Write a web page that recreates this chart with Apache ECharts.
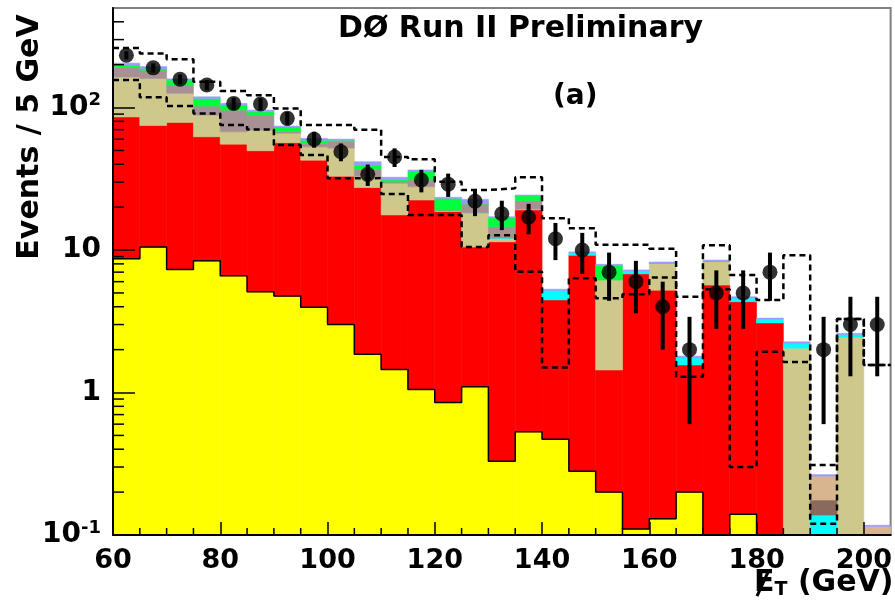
<!DOCTYPE html>
<html>
<head>
<meta charset="utf-8">
<title>DØ Run II Preliminary</title>
<script src="https://cdn.jsdelivr.net/npm/echarts@6.0.0/dist/echarts.min.js"></script>
<style>
html,body{margin:0;padding:0;background:#ffffff;}
#chart{width:895px;height:605px;}
</style>
</head>
<body>
<div id="chart"></div>
<script>
// ---------------- data ----------------
const binStart = [60,65,70,75,80,85,90,95,100,105,110,115,120,125,130,135,140,145,150,155,160,165,170,175,180,185,190,195,200];
const binWidth = 5;

// stacked backgrounds, bottom to top (per-bin contributions)
const yellowVals = [8.7,10.5,7.3,8.4,6.6,5.1,4.75,3.96,3.0,1.86,1.45,1.05,0.85,1.1,0.33,0.53,0.47,0.28,0.2,0.11,0.13,0.2,0,0.14,0,0,0,0,0];
const redVals    = [77.3,64.5,71.4,54,48.8,44.7,51.9,38.8,30,25.6,16.2,21.4,17.8,9.4,11.1,18.6,4.0,8.9,1.24,6.7,5.1,1.36,5.68,4.2,3.08,0.05,0.01,0.01,0.005];
const khakiVals  = [78,85,47.3,26.1,12.2,19.7,9.4,10.2,19,5.5,11.8,5.4,0.2,7.6,0.6,0.2,0,0,4.72,0,2.83,0,2.62,0,0,2.0,0.01,2.44,0.005];
const cyanVals   = [0,0,0,0,0,0,0,0,0,0,0,0,0,0.2,0.1,0.1,0.74,0.4,0,0.3,0,0.19,0,0.26,0.2,0.15,0.118,0.1,0];
const dbrownVals = [0,0,0,0,0,0,0,0,0,0,0,0,0,0,0,0,0,0,0,0,0,0,0,0,0,0,0.038,0,0];
const lbrownVals = [0,0,0,0,0,0,0,0,0,0,0,0,0,0,0,0,0,0,0,0,0,0,0,0,0,0,0.083,0,0.105];
const mauveVals  = [28,23,18,14,28.4,19,2,3,6,4,0.6,3.2,0.2,2.7,2.5,2.8,0,0,0,0,0,0,0,0,0,0,0,0,0];
const greenVals  = [6,5,12,13.5,8,5,5,3,1,2.5,1,4.8,4,0.3,2.2,1.8,0,0,1.65,0,0.05,0,0.1,0,0,0,0,0,0];
const blueVals   = [7,6,3,3,3,2.5,1,1.8,1,2.2,1.4,0.6,0.4,1.4,0.3,0.3,0.1,0.13,0.13,0.14,0.13,0.05,0.1,0.1,0.05,0.07,0.006,0.05,0.002];

// two dashed histograms
const dashA = [262,240,218,152,131,122,98.7,75.4,75.4,70,45,43.3,30.2,26.4,27.1,32.4,16.7,14.2,10.9,10.9,10.2,1.29,10.8,6.68,4.46,9.2,0.31,3.28,1.56];
const dashB = [156,118,102.5,91,75.4,70.3,54.6,46.4,31.9,32,24.7,17.6,17.6,10.5,12.7,7.04,1.5,6.33,4.58,4.89,6.43,4.7,5.3,0.30,1.93,1.64,0.12,3.28,1.56];

// data points
const dataCounts = [233,190,158,144,107,106,84,60,49,34,45,31,29,22,18,17,12,10,7,6,4,2,5,5,7,0,2,3,3];
const dataErrors = [15.3,13.8,12.6,12.0,10.3,10.3,9.2,7.7,7.0,5.8,6.7,5.6,5.4,4.7,4.2,4.1,3.5,3.2,2.6,2.4,2.0,1.4,2.2,2.2,2.6,0,1.4,1.7,1.7];

// axis ticks
const xMinorTicks = [65,70,75,85,90,95,105,110,115,125,130,135,145,150,155,165,170,175,185,190,195];
const yMinorTicks = [0.2,0.3,0.4,0.5,0.6,0.7,0.8,0.9,2,3,4,5,6,7,8,9,20,30,40,50,60,70,80,90,200,300,400];
const yTickLabels = {'-1':'{b|10}{s|-1}','0':'{b|1}','1':'{b|10}','2':'{b|10}{s|2}'};

// ---------------- chart ----------------
const X_MIN = 60, X_MAX = 205, Y_MIN = 0.1, Y_MAX = 500;
const FONT = 'DejaVu Sans';
const components = [
  {name:'yellow', color:'#ffff00', values:yellowVals},
  {name:'red',    color:'#ff0000', values:redVals},
  {name:'khaki',  color:'#cfc88b', values:khakiVals},
  {name:'cyan',   color:'#00ffff', values:cyanVals},
  {name:'dbrown', color:'#8b6a5e', values:dbrownVals},
  {name:'lbrown', color:'#d8b58e', values:lbrownVals},
  {name:'mauve',  color:'#a89194', values:mauveVals},
  {name:'green',  color:'#00ff3c', values:greenVals},
  {name:'blue',   color:'#9a9aff', values:blueVals}
];

function rectRenderer(color){
  return function(params, api){
    const x0 = api.value(0), x1 = api.value(1);
    let lo = api.value(2), hi = api.value(3);
    if (!(hi > lo) || hi <= Y_MIN) return;
    lo = Math.max(lo, Y_MIN); hi = Math.min(hi, Y_MAX);
    const a = api.coord([x0, hi]), b = api.coord([x1, lo]);
    return {type:'rect', shape:{x:a[0], y:a[1], width:b[0]-a[0], height:b[1]-a[1]},
            style:{fill:color, stroke:color, lineWidth:0.6}};
  };
}

const series = [];
const cum = binStart.map(() => 0);
components.forEach(c => {
  const data = binStart.map((s, i) => {
    const lo = cum[i], hi = lo + c.values[i];
    cum[i] = hi;
    return [s, s + binWidth, Math.max(lo, 1e-4), Math.max(hi, 1e-4)];
  });
  series.push({type:'custom', name:c.name, data:data, renderItem:rectRenderer(c.color),
               encode:{x:[0,1], y:[3]}, z:2, silent:true, animation:false});
});

function stepData(vals){
  const d = binStart.map((s, i) => [s, Math.max(vals[i], 1e-3)]);
  d.push([binStart[binStart.length-1] + binWidth, Math.max(vals[vals.length-1], 1e-3)]);
  return d;
}

// yellow outline
series.push({type:'line', step:'end', data:stepData(yellowVals), symbol:'none', z:3, silent:true,
             lineStyle:{color:'#000', width:1.5}, clip:true, animation:false});
// dashed histograms
[dashA, dashB].forEach(v => series.push({type:'line', step:'end', data:stepData(v), symbol:'none', z:4, silent:true,
             lineStyle:{color:'#000', width:2.5, type:[6,4]}, clip:true, animation:false}));

// error bars
series.push({type:'custom', data:binStart.map((s,i)=>[s+binWidth/2, dataCounts[i], dataErrors[i]]).filter(d=>d[1]>0),
  encode:{x:0, y:1}, z:5, silent:true, animation:false,
  renderItem:function(params, api){
    const x = api.value(0), n = api.value(1), e = api.value(2);
    const t = api.coord([x, n + e]), b = api.coord([x, Math.max(n - e, 1e-3)]);
    return {type:'line', shape:{x1:t[0], y1:t[1], x2:b[0], y2:b[1]}, style:{stroke:'#000', lineWidth:4}};
  }});
// data points
series.push({type:'scatter', data:binStart.map((s,i)=>[s+binWidth/2, dataCounts[i]]).filter(d=>d[1]>0),
  symbol:'circle', symbolSize:15, itemStyle:{color:'#000'}, z:6, silent:true, animation:false});

// minor ticks
series.push({type:'custom', data:yMinorTicks.map(v=>[X_MIN, v]), encode:{x:0, y:1}, z:20, silent:true, animation:false,
  renderItem:function(params, api){
    const p = api.coord([api.value(0), api.value(1)]);
    return {type:'line', shape:{x1:p[0], y1:p[1], x2:p[0]+11, y2:p[1]}, style:{stroke:'#000', lineWidth:1.5}};
  }});
series.push({type:'custom', data:xMinorTicks.map(v=>[v, Y_MIN]), encode:{x:0, y:1}, z:20, silent:true, animation:false,
  renderItem:function(params, api){
    const p = api.coord([api.value(0), api.value(1)]);
    return {type:'line', shape:{x1:p[0], y1:p[1], x2:p[0], y2:p[1]-7}, style:{stroke:'#000', lineWidth:1.5}};
  }});

const chart = echarts.init(document.getElementById('chart'), null, {renderer:'canvas'});
chart.setOption({
  animation:false,
  backgroundColor:'#ffffff',
  grid:{left:113, right:1, top:8, bottom:70, show:true, borderColor:'#808080', borderWidth:2, backgroundColor:'transparent'},
  xAxis:{type:'value', min:X_MIN, max:X_MAX, interval:20, z:10,
    axisLine:{show:true, onZero:false, lineStyle:{color:'#000', width:2}},
    axisTick:{show:true, inside:true, length:13, lineStyle:{color:'#000', width:1.5}},
    splitLine:{show:false},
    axisLabel:{showMaxLabel:false, margin:12, color:'#000', fontFamily:FONT, fontWeight:'bold', fontSize:27,
      formatter:function(v){ return v > 200 ? '' : String(v); }}},
  yAxis:{type:'log', logBase:10, min:Y_MIN, max:Y_MAX, z:10,
    axisLine:{show:true, onZero:false, lineStyle:{color:'#000', width:2}},
    axisTick:{show:true, inside:true, length:22, lineStyle:{color:'#000', width:1.5}},
    splitLine:{show:false},
    axisLabel:{showMaxLabel:false, margin:12, color:'#000',
      formatter:function(v){ const k = String(Math.round(Math.log10(v))); return yTickLabels[k] || ''; },
      rich:{
        b:{fontFamily:FONT, fontWeight:'bold', fontSize:28, lineHeight:32, color:'#000'},
        s:{fontFamily:FONT, fontWeight:'bold', fontSize:18, lineHeight:18, verticalAlign:'top', color:'#000'}
      }}},
  graphic:[
    {type:'text', left:338, top:14, z:30, style:{text:'DØ Run II Preliminary', fontFamily:FONT, fontWeight:'bold', fontSize:30, fill:'#000'}},
    {type:'text', left:553, top:83, z:30, style:{text:'(a)', fontFamily:FONT, fontWeight:'bold', fontSize:28, fill:'#000'}},
    {type:'text', x:30, y:137, rotation:Math.PI/2, z:30, style:{text:'Events / 5 GeV', fontFamily:FONT, fontWeight:'bold', fontSize:30, fill:'#000', align:'center', verticalAlign:'middle'}},
    {type:'text', x:754, y:566, z:30, style:{text:'{e|E}{t|T}{g| (GeV)}', fill:'#000',
      rich:{e:{fontFamily:FONT, fontWeight:'bold', fontSize:30, lineHeight:34},
            t:{fontFamily:FONT, fontWeight:'bold', fontSize:19, lineHeight:19, verticalAlign:'bottom'},
            g:{fontFamily:FONT, fontWeight:'bold', fontSize:30, lineHeight:34}}}},
    {type:'line', z:31, shape:{x1:757, y1:596, x2:768, y2:572}, style:{stroke:'#000', lineWidth:3}}
  ],
  series:series
});
</script>
</body>
</html>
